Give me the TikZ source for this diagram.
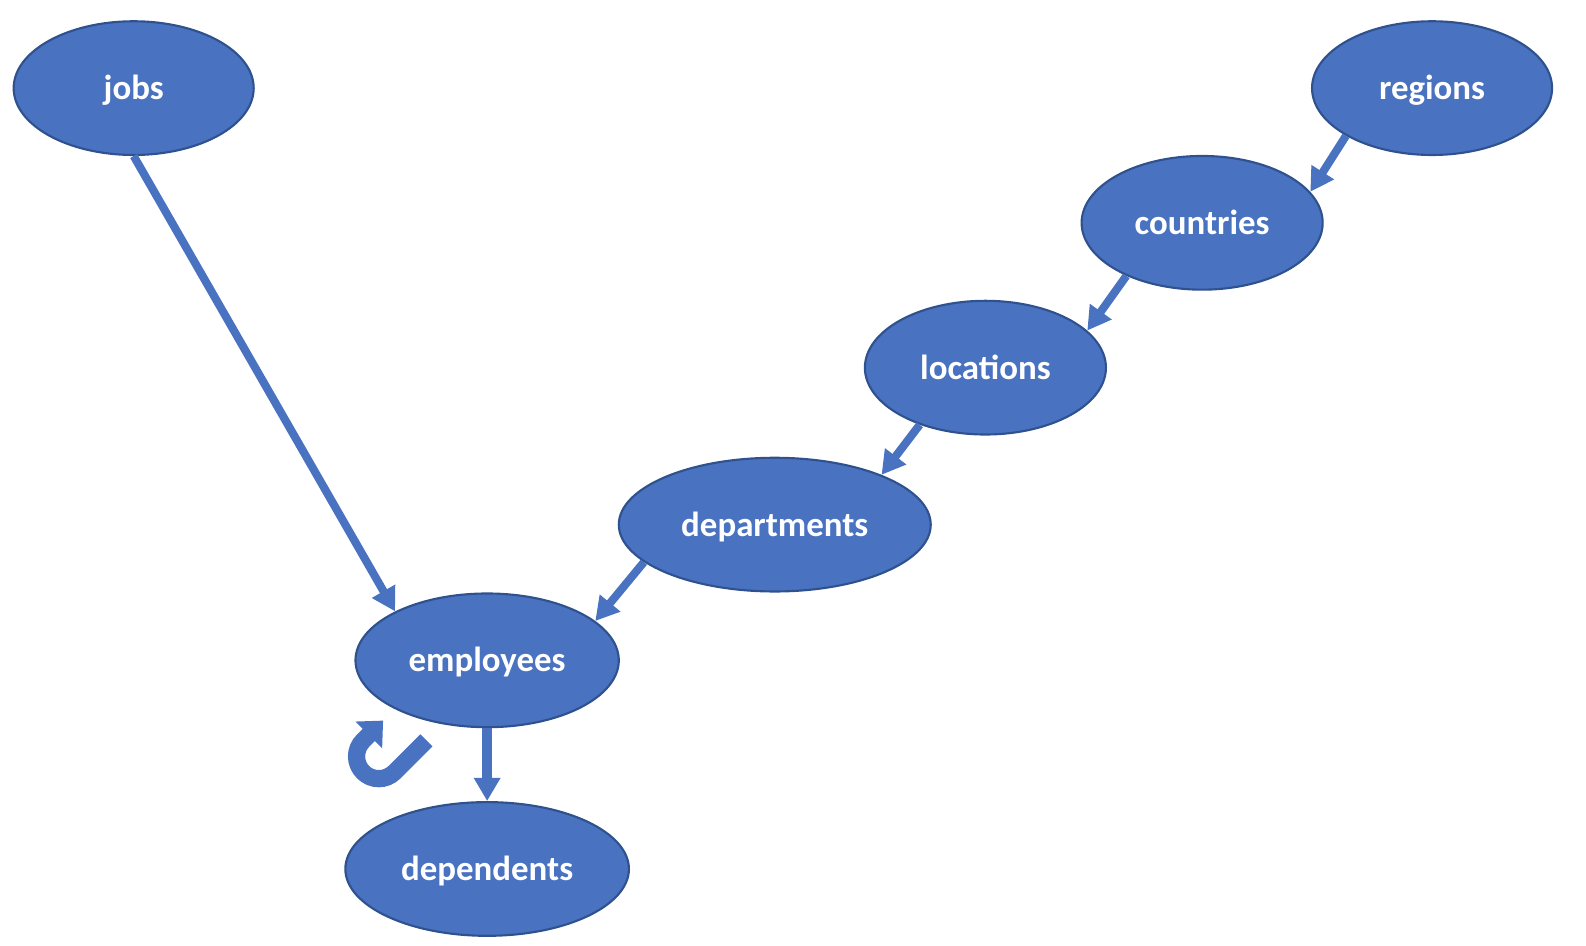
\documentclass[tikz,border=0pt]{standalone}
\usepackage{fontspec}
\setmainfont{Carlito}
\usetikzlibrary{shapes.geometric,arrows.meta}
\definecolor{tblfill}{RGB}{73,114,192}
\definecolor{tblline}{RGB}{47,82,143}
\tikzset{
	tbl/.style={ellipse, fill=tblfill, draw=tblline, line width=0.6pt, text=white,
		font=\fontsize{9.8}{11}\selectfont\bfseries, minimum height=1.32cm, inner sep=0pt,
		text height=0.3cm, text depth=0.07cm},
	link/.style={draw=tblfill, line width=0.08cm, -{Triangle[length=0.23cm,width=0.25cm]}},
	selfref/.style={draw=tblfill, line width=0.17cm, -{Triangle[length=0.2cm,width=0.36cm]}},
}
\begin{document}
\begin{tikzpicture}
	\useasboundingbox (0,0) rectangle (15.66,-9.34);
	\node[tbl, minimum width=2.37cm] at (1.32,-0.87) (jobs) {jobs};
	\node[tbl, minimum width=2.37cm] at (14.14,-0.87) (regions) {regions};
	\node[tbl, minimum width=2.38cm] at (11.87,-2.20) (countries) {countries};
	\node[tbl, minimum width=2.38cm] at (9.73,-3.63) (locations) {locations};
	\node[tbl, minimum width=3.08cm] at (7.65,-5.18) (departments) {departments};
	\node[tbl, minimum width=2.60cm] at (4.81,-6.52) (employees) {employees};
	\node[tbl, minimum width=2.80cm] at (4.81,-8.58) (dependents) {dependents};
	\draw[link] (jobs.south) -- (employees.152);
	\draw[link] (regions.209) -- (countries.16);
	\draw[link] (countries.215) -- (locations.20);
	\draw[link] (locations.221) -- (departments.25);
	\draw[link] (departments.196) -- (employees.20);
	\draw[link, line width=0.095cm] (employees.south) -- (dependents.north);
	% self reference of employees
	\coordinate (selfstart) at (4.21,-7.31);
	\draw[selfref] (selfstart) -- ++(-135:0.444) arc[start angle=-45, end angle=-225, radius=0.22] -- ++(45:0.28);
\end{tikzpicture}
\end{document}
